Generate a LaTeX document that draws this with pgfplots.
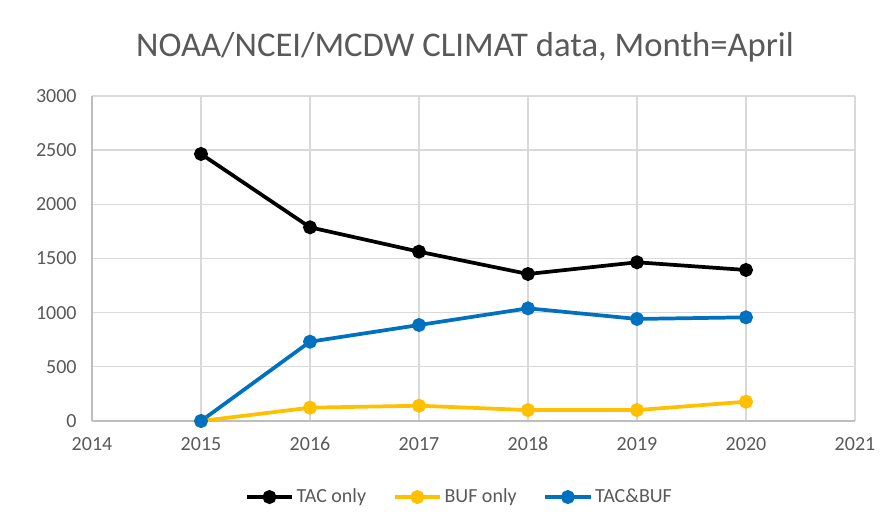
\documentclass[border=0pt]{standalone}
\usepackage{pgfplots}
\pgfplotsset{compat=1.18}
\usepackage{fontspec}
\setmainfont{Carlito}
\definecolor{txtgray}{HTML}{595959}
\definecolor{gridgray}{HTML}{D9D9D9}
\definecolor{xlyellow}{HTML}{FFC000}
\definecolor{xlblue}{HTML}{0070C0}
\begin{document}
\begin{tikzpicture}
\useasboundingbox (-69pt,-77.25pt) rectangle (594pt,315.75pt);
\begin{axis}[
  scale only axis,
  width=572.25pt, height=243.75pt,
  xmin=2014, xmax=2021, ymin=0, ymax=3000,
  xtick={2014,2015,2016,2017,2018,2019,2020,2021},
  xticklabels={2014,2015,2016,2017,2018,2019,2020,2021},
  ytick={0,500,1000,1500,2000,2500,3000},
  yticklabels={0,500,1000,1500,2000,2500,3000},
  xticklabel style={text height=10.5pt, text depth=0pt, anchor=north, yshift=-8pt},
  yticklabel style={xshift=-8pt},
  tick label style={font=\fontsize{15}{18}\selectfont, text=txtgray},
  major tick length=0pt,
  grid=major,
  grid style={gridgray, line width=1pt},
  axis line style={draw=gridgray!70!gray, line width=1pt},
  axis x line*=bottom, axis y line*=left,
  legend columns=3,
  legend style={at={(0.482,-0.234)}, anchor=center, draw=none, fill=none,
    font=\fontsize{15}{18}\selectfont, text=txtgray,
    /tikz/every even column/.append style={column sep=18pt}},
  legend image code/.code={
    \draw[#1, mark repeat=2, mark phase=2] plot coordinates {(0pt,0pt) (17pt,0pt) (34pt,0pt)};
  },
  every axis plot/.append style={line width=2.8pt, mark=*, mark size=3.8pt},
]
\addplot[black, mark options={fill=black}] coordinates {
(2015,2465) (2016,1788) (2017,1563) (2018,1357) (2019,1465) (2020,1394)};
\addlegendentry{TAC only}
\addplot[xlyellow, mark options={fill=xlyellow}] coordinates {
(2015,0) (2016,123) (2017,141) (2018,101) (2019,101) (2020,178)};
\addlegendentry{BUF only}
\addplot[xlblue, mark options={fill=xlblue}] coordinates {
(2015,0) (2016,732) (2017,886) (2018,1040) (2019,942) (2020,957)};
\addlegendentry{TAC\&BUF}
\end{axis}
\node[text=txtgray, font=\fontsize{26}{31}\selectfont] at (279.75pt,280.5pt) {NOAA/NCEI/MCDW CLIMAT data, Month=April};
\end{tikzpicture}
\end{document}
